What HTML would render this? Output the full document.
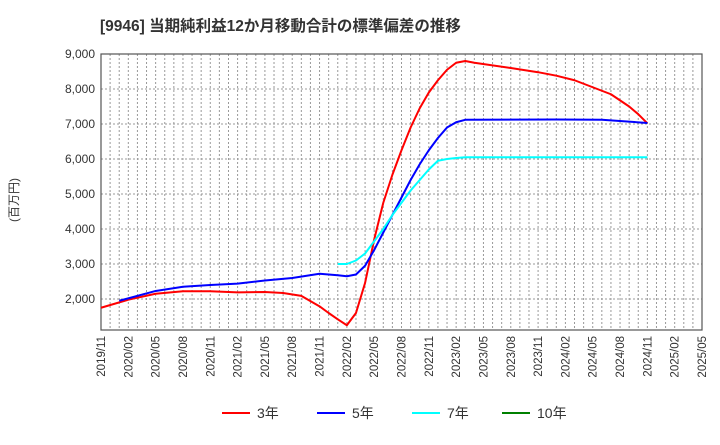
<!DOCTYPE html>
<html><head><meta charset="utf-8"><style>
body{margin:0;background:#fff;font-family:"Liberation Sans","Noto Sans CJK JP",sans-serif}
svg text{font-family:"Liberation Sans","Noto Sans CJK JP",sans-serif}
</style></head><body>
<svg id="c" width="720" height="440" xmlns="http://www.w3.org/2000/svg">
<text x="100" y="31" font-size="15.5" font-weight="bold" fill="#333">[9946]  当期純利益12か月移動合計の標準偏差の推移</text>
<text transform="translate(18,200) rotate(-90)" font-size="12" fill="#333" text-anchor="middle">(百万円)</text>
<g id="grid"></g><g id="axes"></g><g id="series"></g><g id="legend"></g>
</svg>
<script>
const xLabels=["2019/11","2020/02","2020/05","2020/08","2020/11","2021/02","2021/05","2021/08","2021/11","2022/02","2022/05","2022/08","2022/11","2023/02","2023/05","2023/08","2023/11","2024/02","2024/05","2024/08","2024/11","2025/02","2025/05"];
const yTicks=[2000,3000,4000,5000,6000,7000,8000,9000];
const m3=[0,3,6,9,12,15,18,20,22,24,25,26,27,28,29,30,31,32,33,34,35,36,37,38,39,40,41,45,48,50,52,54,56,58,59,60];
const v3=[1750,1980,2150,2220,2220,2190,2200,2170,2090,1790,1600,1420,1250,1600,2460,3700,4750,5550,6250,6900,7450,7900,8250,8550,8750,8800,8750,8600,8480,8380,8250,8050,7850,7500,7280,7020];
const m5=[2,6,9,12,15,18,21,24,26,27,28,29,30,31,32,33,34,35,36,37,38,39,40,50,55,60];
const v5=[1950,2230,2350,2400,2440,2530,2600,2720,2680,2650,2700,2950,3400,3900,4400,4900,5400,5850,6250,6600,6900,7050,7120,7130,7120,7030];
const m7=[26,27,28,29,30,31,32,33,34,35,36,37,38,39,40,60];
const v7=[3000,3000,3100,3300,3650,4000,4400,4750,5100,5400,5700,5950,6000,6030,6050,6050];
const m10=[];const v10=[];
const L=101,R=702,T=54,B=330,NM=66;
const X=m=>L+(R-L)*m/NM;
const Y=v=>299-(v-2000)*35/1000;
const NS="http://www.w3.org/2000/svg";
function mk(p,t,a){const e=document.createElementNS(NS,t);for(const k in a)e.setAttribute(k,a[k]);p.appendChild(e);return e;}
const g=document.getElementById('grid'),ax=document.getElementById('axes'),s=document.getElementById('series'),lg=document.getElementById('legend');
for(let m=1;m<NM;m++){const l=mk(g,'line',{x1:X(m),x2:X(m),y1:T,y2:B,stroke:'#999','stroke-dasharray':'2,2','stroke-width':1});

}
yTicks.forEach(v=>{const l=mk(g,'line',{x1:L,x2:R,y1:Y(v),y2:Y(v),stroke:'#999','stroke-dasharray':'2,2','stroke-width':1});


const t=mk(ax,'text',{x:L-6,y:Y(v)+4,'font-size':12,fill:'#333','text-anchor':'end'});t.textContent=v.toLocaleString('en-US');

});
const fr=mk(ax,'rect',{x:L,y:T,width:R-L,height:B-T,fill:'none',stroke:'#555','stroke-width':1.2});


xLabels.forEach((lab,i)=>{const x=X(i*3);const t=mk(ax,'text',{transform:`translate(${x+4},${B+6}) rotate(-90)`,'font-size':11.5,fill:'#333','text-anchor':'end'});t.textContent=lab;

});
function line(ms,vs,col,name){if(!ms.length)return;const p=mk(s,'polyline',{points:ms.map((m,i)=>X(m)+','+Y(vs[i])).join(' '),fill:'none',stroke:col,'stroke-width':2,'stroke-linejoin':'round'});

}
line(m3,v3,'#ff0000','series-3y');line(m5,v5,'#0000ff','series-5y');line(m7,v7,'#00ffff','series-7y');line(m10,v10,'#008000','series-10y');
[['3年','#ff0000',222],['5年','#0000ff',317],['7年','#00ffff',412],['10年','#008000',502]].forEach(([n,c,x])=>{
const e=mk(lg,'g',{});

mk(e,'line',{x1:x,x2:x+28,y1:413,y2:413,stroke:c,'stroke-width':2});
const t=mk(e,'text',{x:x+35,y:418,'font-size':14,fill:'#333'});t.textContent=n;});
</script>
</body></html>
